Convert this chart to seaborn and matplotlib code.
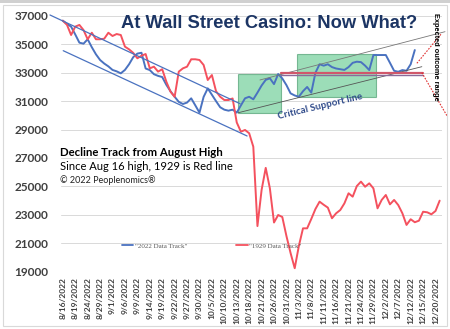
import matplotlib
matplotlib.use("Agg")
import matplotlib.pyplot as plt
import seaborn as sns
import pandas as pd
from matplotlib.patches import Rectangle
from matplotlib.lines import Line2D

# ---------------- data ----------------
tick_labels = ["8/16/2022", "8/19/2022", "8/24/2022", "8/29/2022", "9/1/2022", "9/6/2022",
               "9/9/2022", "9/14/2022", "9/19/2022", "9/22/2022", "9/27/2022", "9/30/2022",
               "10/5/2022", "10/10/2022", "10/13/2022", "10/18/2022", "10/21/2022", "10/26/2022",
               "10/31/2022", "11/3/2022", "11/8/2022", "11/11/2022", "11/16/2022", "11/21/2022",
               "11/24/2022", "11/29/2022", "12/2/2022", "12/7/2022", "12/12/2022", "12/15/2022",
               "12/20/2022"]

track_2022 = [36670, 36440, 36250, 35700, 35120, 35050, 35360, 34800, 34300, 33900,
              33650, 33450, 33200, 33100, 32960, 33200, 33600, 34100, 34350, 34410,
              33300, 33190, 32900, 32780, 32700, 32150, 31700, 31310, 30950, 30800,
              30900, 31200, 30700, 30190, 31300, 31900, 31450, 31000, 30570, 30400,
              30330, 30400, 30190, 30700, 31200, 31310, 31130, 31600, 32100, 32500,
              32610, 32200, 32910, 32600, 32130, 31550, 31400, 31310, 31700, 32000,
              31600, 33000, 33600, 33500, 33600, 33400, 33300, 33250, 33200, 33400,
              33700, 33780, 33750, 33500, 33190, 34250, 34250, 34250, 34250, 33700,
              33140, 33070, 33190, 33140, 33600, 34600]

track_1929 = [36670, 36380, 35660, 36250, 36370, 36010, 35360, 35820, 35360, 35360,
              35400, 35820, 35590, 35730, 35660, 34840, 34650, 34400, 34020, 34200,
              34320, 33310, 33430, 33080, 33250, 32370, 31670, 31310, 33080, 33310,
              33430, 33950, 33950, 33900, 33550, 32490, 32840, 31700, 31310, 31080,
              31080, 31190, 29500, 28850, 28970, 28740, 27790, 22200, 24740, 26300,
              24860, 22450, 22980, 22840, 21500, 20300, 19230, 20800, 22040, 22040,
              22700, 23400, 23920, 23700, 23500, 22750, 23100, 23330, 23800, 24510,
              24270, 25020, 25330, 24970, 25210, 24860, 23450, 24040, 24390, 23730,
              24040, 23680, 23100, 22280, 22680, 22470, 22580, 23210, 23170, 23030,
              23260, 23990]

series_names = ['"2022 Data Track"', '"1929 Data Track"']
colors = {series_names[0]: "#4a72c0", series_names[1]: "#f4515e"}

df = pd.concat([
    pd.DataFrame({"day": range(len(track_2022)), "value": track_2022, "series": series_names[0]}),
    pd.DataFrame({"day": range(len(track_1929)), "value": track_1929, "series": series_names[1]}),
])

# ---------------- figure ----------------
sns.set_theme(style="white")
plt.rcParams["font.family"] = ["Lato", "DejaVu Sans"]

fig = plt.figure(figsize=(4.5, 3.29), dpi=100)
fig.patch.set_facecolor("white")
ax = fig.add_axes([0.135, 0.1748, 0.8466, 0.7766])

sns.lineplot(data=df, x="day", y="value", hue="series", palette=colors,
             hue_order=series_names, linewidth=1.4, ax=ax, legend=False)

ax.set_xlim(-0.5, 91.5)
ax.set_ylim(19000, 37000)
ax.set_yticks(range(19000, 37001, 2000))
ax.set_yticklabels([str(v) for v in range(19000, 37001, 2000)],
                   fontsize=8.5, fontweight="bold", color="#404040")
ax.set_xticks(range(0, 3 * len(tick_labels), 3))
ax.set_xticklabels(tick_labels, rotation=90, fontsize=6, fontweight="bold", color="#404040")
ax.tick_params(axis="y", length=0, pad=9)
ax.tick_params(axis="x", length=0, pad=4)
ax.set_xlabel("")
ax.set_ylabel("")
ax.yaxis.grid(True, color="#d9d9d9", linewidth=0.7)
for s in ax.spines.values():
    s.set_visible(False)

# legend
handles = [Line2D([0], [0], color=colors[n], lw=1.3) for n in series_names]
ax.legend(handles, series_names, loc="center", bbox_to_anchor=(0.396, 0.10), ncol=2,
          frameon=False, prop={"family": "Liberation Serif", "size": 5},
          labelcolor="#595959", handlelength=1.7, columnspacing=7, handletextpad=0.2)

# ---------------- annotations ----------------
chan = "#4a72c0"
ax.plot([-3.1, 42.8], [37070, 30820], color=chan, lw=0.9, clip_on=False)
ax.plot([0.1, 44.5], [34555, 28546], color=chan, lw=0.9, clip_on=False)

green_face = "#4cc27e"
ax.add_patch(Rectangle((42.4, 30167), 10.2, 2747, facecolor=green_face, alpha=0.55,
                       edgecolor="#2e8b57", lw=0.8, zorder=1))
ax.add_patch(Rectangle((56.6, 31273), 19.0, 3029, facecolor=green_face, alpha=0.55,
                       edgecolor="#2e8b57", lw=0.8, zorder=1))

ax.plot([42.4, 86.7], [30187, 33428], color="#555555", lw=0.6, zorder=3)
ax.plot([47.6, 92.3], [32491, 35894], color="#777777", lw=0.6, zorder=3, clip_on=False)

ax.plot([52.6, 87.0], [33005, 33005], color="#d0576a", lw=1.6, zorder=3)
ax.plot([52.6, 87.0], [32870, 32870], color="#8a6a9a", lw=1.0, zorder=3)

ax.plot([85.5, 91.5], [33668, 35781], color="#e03030", lw=0.8, ls=(0, (1.5, 1.2)), zorder=3)
ax.plot([86.7, 92.8], [33005, 29955], color="#e03030", lw=0.8, ls=(0, (1.5, 1.2)),
        zorder=3, clip_on=False)

ax.text(62.1, 30590, "Critical Support line", rotation=13.5, ha="center", va="center",
        fontsize=7, fontweight="bold", color="#2f4a8a", rotation_mode="anchor")

# ---------------- texts ----------------
fig.text(269 / 450, 1 - 24 / 329, "At Wall Street Casino: Now What?", ha="center", va="center",
         fontsize=13.2, fontweight="bold", color="#1c3564", family="Liberation Sans")
fig.text(436 / 450, 1 - 57 / 329, "Expected outcome range", rotation=-90, ha="center",
         va="center", fontsize=5.3, fontweight="bold", color="black",
         family="Liberation Sans")
fig.text(60 / 450, 1 - 152 / 329, "Decline Track from August High", ha="left", va="center",
         fontsize=8.2, fontweight="bold", color="black")
fig.text(60 / 450, 1 - 166 / 329, "Since Aug 16 high, 1929 is Red line", ha="left",
         va="center", fontsize=8, color="black")
fig.text(60 / 450, 1 - 180 / 329, "\u00a9 2022 Peoplenomics\u00ae", ha="left", va="center",
         fontsize=6.5, color="#222222")

# frame
fig.patches.append(Rectangle((3 / 450, 1 - 326 / 329), 444 / 450, 321 / 329,
                             transform=fig.transFigure, fill=False, edgecolor="#d9d9d9",
                             lw=0.8))
fig.patches.append(Rectangle((0, 1 - 3 / 329), 1, 3 / 329, transform=fig.transFigure,
                             facecolor="#d0d0d0", edgecolor="none"))

fig.savefig("out.png", dpi=100)
